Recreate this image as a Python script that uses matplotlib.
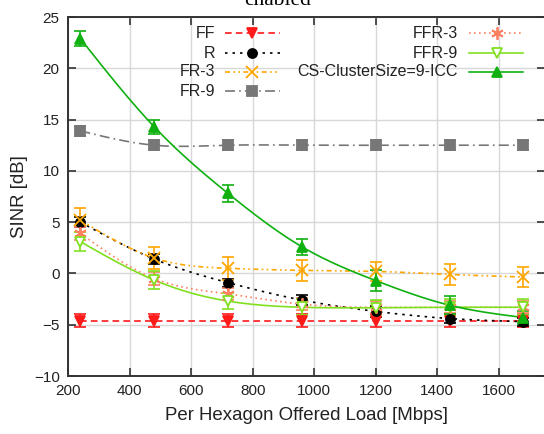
import numpy as np
import matplotlib
matplotlib.use("Agg")
import matplotlib.pyplot as plt
from matplotlib.lines import Line2D

# ---------------- data ----------------
load = [240, 480, 720, 960, 1200, 1440, 1680]

ff = [-4.6, -4.6, -4.6, -4.6, -4.6, -4.6, -4.6]
ff_err = [0.6, 0.6, 0.6, 0.6, 0.6, 0.6, 0.6]

r = [5.0, 1.4, -0.9, -2.6, -3.7, -4.4, -4.7]
r_err = [0.5, 0.5, 0.4, 0.5, 0.5, 0.4, 0.4]

fr3 = [5.2, 1.5, 0.5, 0.3, 0.2, -0.1, -0.35]
fr3_err = [1.2, 1.1, 1.1, 1.0, 0.9, 1.0, 1.0]

fr9 = [13.9, 12.5, 12.5, 12.5, 12.5, 12.5, 12.5]
fr9_err = [0.5, 0.5, 0.5, 0.5, 0.5, 0.5, 0.5]

ffr3 = [3.9, -0.5, -2.0, -3.0, -3.3, -3.3, -3.3]
ffr3_err = [0.6, 0.6, 0.6, 0.6, 0.6, 0.6, 0.6]

ffr9 = [3.1, -0.65, -2.7, -3.3, -3.35, -3.3, -3.3]
ffr9_err = [0.9, 0.9, 0.8, 0.8, 0.8, 0.8, 0.8]

cs = [22.9, 14.3, 7.8, 2.6, -0.7, -3.1, -4.3]
cs_err = [0.7, 0.7, 0.8, 0.8, 1.0, 0.9, 0.6]

labels = ["FF", "R", "FR-3", "FR-9", "FFR-3", "FFR-9", "CS-ClusterSize=9-ICC"]
xticks = [200, 400, 600, 800, 1000, 1200, 1400, 1600]
yticks = [-10, -5, 0, 5, 10, 15, 20, 25]


def natural_spline(x, y, n=300):
    x = np.asarray(x, float)
    y = np.asarray(y, float)
    m = len(x)
    h = np.diff(x)
    A = np.zeros((m, m))
    b = np.zeros(m)
    A[0, 0] = 1
    A[-1, -1] = 1
    for i in range(1, m - 1):
        A[i, i - 1] = h[i - 1]
        A[i, i] = 2 * (h[i - 1] + h[i])
        A[i, i + 1] = h[i]
        b[i] = 3 * ((y[i + 1] - y[i]) / h[i] - (y[i] - y[i - 1]) / h[i - 1])
    c = np.linalg.solve(A, b)
    xs = np.linspace(x[0], x[-1], n)
    ys = np.empty_like(xs)
    for k, xv in enumerate(xs):
        i = min(np.searchsorted(x, xv, side="right") - 1, m - 2)
        dx = xv - x[i]
        bi = (y[i + 1] - y[i]) / h[i] - h[i] * (2 * c[i] + c[i + 1]) / 3
        di = (c[i + 1] - c[i]) / (3 * h[i])
        ys[k] = y[i] + bi * dx + c[i] * dx ** 2 + di * dx ** 3
    return xs, ys


plt.rcParams['font.family'] = ['Liberation Sans', 'DejaVu Sans']

fig = plt.figure(figsize=(5.44, 4.34), dpi=100)
ax = fig.add_axes([68 / 544, 1 - 376 / 434, 477 / 544, 359 / 434])

series = [
    dict(y=ff, e=ff_err, color='#ff1a1a', ls=(0, (4, 2.5)), marker='v', mfc='#ff1a1a', ms=6.5),
    dict(y=r, e=r_err, color='black', ls=(0, (1.5, 3)), marker='o', mfc='black', ms=6.5),
    dict(y=fr3, e=fr3_err, color='#ffa500', ls=(0, (3, 2, 1, 2, 1, 2)), marker='x', mfc='none', ms=8),
    dict(y=fr9, e=fr9_err, color='#777777', ls=(0, (6, 2.5, 1, 2.5)), marker='s', mfc='#777777', ms=7),
    dict(y=ffr3, e=ffr3_err, color='#ff8060', ls=(0, (1, 2)), marker=(6, 2, 0), mfc='none', ms=9),
    dict(y=ffr9, e=ffr9_err, color='#80e020', ls='-', marker='v', mfc='white', ms=7),
    dict(y=cs, e=cs_err, color='#10b010', ls='-', marker='^', mfc='#10b010', ms=7),
]

for s in series:
    xs, ys = natural_spline(load, s['y'])
    ax.plot(xs, ys, color=s['color'], ls=s['ls'], lw=1.2, zorder=3)
    ax.errorbar(load, s['y'], yerr=s['e'], fmt='none', ecolor=s['color'],
                elinewidth=1.2, capsize=4, capthick=1.2, zorder=4)
    ax.plot(load, s['y'], ls='none', marker=s['marker'], color=s['color'],
            mfc=s['mfc'], mec=s['color'], ms=s['ms'], mew=1.3, zorder=5)

# manual gnuplot-style legend (labels right-aligned, sample to the right)
W, H = 477.0, 359.0
def ax_xy(px, py):
    return (px - 68) / W, 1 - (py - 17) / H

cols = [(215, 225, 280, 252), (458, 469, 523, 497)]
rows = [33, 53, 72, 91]
pos = [(0, 0), (0, 1), (0, 2), (0, 3), (1, 0), (1, 1), (1, 2)]
for s, lab, (ci, ri) in zip(series, labels, pos):
    lx, x0, x1, xm = cols[ci]
    py = rows[ri]
    tx, ty = ax_xy(lx, py)
    ax.text(tx, ty, lab, transform=ax.transAxes, ha='right', va='center',
            fontsize=11.5, color='#222222')
    a0, yy = ax_xy(x0, py)
    a1, _ = ax_xy(x1, py)
    am, _ = ax_xy(xm, py)
    ax.add_line(Line2D([a0, a1], [yy, yy], transform=ax.transAxes,
                       color=s['color'], ls=s['ls'], lw=1.2, zorder=6))
    ax.add_line(Line2D([am], [yy], transform=ax.transAxes, ls='none',
                       marker=s['marker'], color=s['color'], mfc=s['mfc'],
                       mec=s['color'], ms=s['ms'], mew=1.3, zorder=7))

ax.set_xlim(200, 1750)
ax.set_ylim(-10, 25)
ax.set_xticks(xticks)
ax.set_yticks(yticks)
ax.grid(True, color='#d8d8d8', lw=1.0, zorder=0)
ax.set_axisbelow(True)
ax.tick_params(direction='in', length=6, width=1.2, color='#333333',
               labelsize=11, labelcolor='#222222', top=True, right=True,
               pad=6)
for sp in ax.spines.values():
    sp.set_color('#333333')
    sp.set_linewidth(1.4)

ax.set_xlabel('Per Hexagon Offered Load [Mbps]', fontsize=13.4, color='#222222', labelpad=6)
ax.set_ylabel('SINR [dB]', fontsize=13.4, color='#222222', labelpad=4)

fig.text(278 / 544, 1 - 5 / 434, 'enabled', ha='center', va='baseline',
         fontsize=15.5, family=['Liberation Serif', 'DejaVu Serif'])

fig.savefig('out.png', dpi=100)
